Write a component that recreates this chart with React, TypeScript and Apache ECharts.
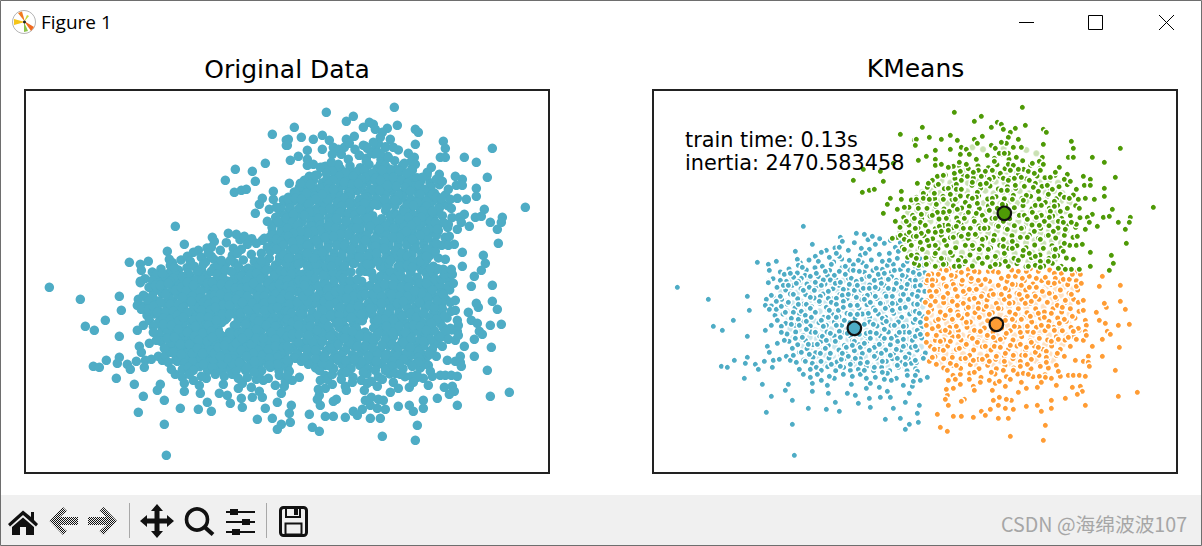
import React, { useEffect, useRef } from "react";
import * as echarts from "echarts";

type P = [number, number];

const titleLeft = "Original Data";
const titleRight = "KMeans";
const infoLines = ["train time: 0.13s", "inertia: 2470.583458"];
const BLUE = "#4EACC5";
const ORANGE = "#FF9C34";
const GREEN = "#4E9A06";

// points, one list per cluster and region of the plot
const blueUpperLeft: P[] = [[451,409],[610,430],[634,433],[658,439],[562,442],[568,454],[478,463],[667,463],[694,460],[559,472],[427,484],[586,481],[625,475],[649,478],[622,496],[487,499],[529,502],[559,499],[550,490],[679,493],[709,490],[727,472],[736,484],[751,472],[496,514],[433,508],[436,526],[448,532],[313,517],[346,523],[370,514],[349,541],[394,553],[412,550],[508,529],[535,523],[577,529],[589,511],[616,511],[637,490],[640,529],[670,535],[703,526],[721,523],[709,511],[751,526],[763,514],[781,517],[490,550],[472,559],[517,544],[544,556],[559,544],[577,553],[601,541],[619,544],[595,565],[649,559],[676,553],[694,550],[724,541],[748,556],[766,541],[781,547],[445,565],[346,574],[382,571],[436,574],[511,570],[532,570],[610,574],[664,571],[706,568],[730,571],[772,571]];
const blueLowerLeft: P[] = [[73,16],[166,52],[283,43],[289,85],[241,115],[181,133],[208,145],[283,163],[337,145],[355,130],[373,115],[343,193],[349,211],[373,184],[394,175],[283,226],[244,235],[277,244],[205,253],[223,256],[307,247],[316,262],[334,238],[358,256],[361,235],[379,232],[400,223],[412,235],[421,220],[430,241],[439,211],[418,199],[274,289],[328,307],[406,307],[397,325],[355,343],[418,355],[340,391],[418,427],[424,520],[466,379],[520,382],[547,361],[559,388],[478,304],[478,328],[526,334],[523,310],[505,295],[544,289],[529,283],[472,286],[451,277],[439,262],[457,238],[478,244],[472,262],[490,256],[505,265],[493,277],[535,247],[562,253],[565,232],[583,334],[607,340],[616,364],[595,307],[649,349],[652,376],[640,319],[652,304],[667,286],[679,316],[682,346],[712,346],[703,328],[721,379],[697,412],[742,409],[769,427],[757,442],[757,361],[769,334],[751,310],[778,313],[763,280],[781,298],[730,289],[715,295],[694,292],[703,274],[688,271],[664,256],[640,289],[622,277],[634,265],[592,265],[598,283],[571,277],[592,247],[622,244],[643,241],[607,229],[568,214],[586,223],
[346,2],[391,10],[406,10],[430,4],[451,25],[469,16],[484,25],[487,1],[505,10],[526,28],[547,4],[562,1],[571,22],[589,7],[604,25],[613,10],[631,19],[649,19],[667,16],[685,4],[706,19],[730,4],[745,16],[763,7],[781,13],
[355,40],[382,43],[421,37],[472,46],[502,43],[526,49],[550,49],[568,40],[586,37],[610,46],[634,43],[643,40],[667,43],[700,43],[718,43],[751,37],[778,37],
[340,52],[370,58],[406,61],[436,67],[460,67],[499,58],[535,61],[550,67],[571,58],[592,70],[613,70],[634,52],[652,61],[682,64],[718,64],[742,55],[766,52],
[337,70],[349,82],[370,82],[385,73],[397,91],[421,91],[445,88],[472,79],[487,91],[529,85],[556,85],[571,76],[592,97],[613,97],[646,94],[667,85],[697,79],[718,85],[742,79],[757,76],[781,88],
[415,109],[436,112],[457,100],[460,118],[475,106],[505,115],[526,106],[550,106],[574,115],[634,127],[661,127],[688,109],[700,118],[724,130],[751,133],[781,121],
[385,133],[415,127],[439,130],[460,142],[487,151],[511,133],[532,154],[550,130],[559,148],[583,154],[619,157],[640,154],[652,151],[670,154],[694,142],[739,151],[769,151],
[385,151],[427,169],[448,166],[466,187],[493,187],[508,163],[520,175],[547,178],[562,166],[580,196],[604,178],[622,196],[634,184],[652,169],[664,196],[679,187],[694,169],[715,169],[751,172],[778,175],
[445,211],[469,217],[502,214],[517,199],[532,214],[598,190],[649,205],[685,214],[712,220],[730,202],[751,193],[775,196],[757,226],[733,229],[775,244],[757,247],[733,250],[700,238],[688,238],[664,223]];
const blueUpperRight: P[] = [[10,535],[13,553],[1,571]];
const blueLowerRight: P[] = [[1,13],[16,10],[10,28],[7,43],[7,67],[1,88],[13,94],[1,112],[16,121],[7,145],[1,163],[16,157],[1,193],[31,213],[25,229],[1,235],[7,268],[37,286],[16,295],[1,280],[13,370],[7,394],[10,421]];

const greenUpperLeft: P[] = [[742,133],[784,150],[784,166],[721,220],[631,238],[682,244],[601,271],[691,274],[628,307],[649,301],[664,298],[745,304],[712,325],[745,328],[775,330],[703,343],[733,358],[754,352],[691,370],[727,394],[760,394],[784,385],[769,427],[742,436],[718,445],[781,439],[754,448],[769,454],[775,466],[754,478],[775,496],[784,520]];
const greenUpperRight: P[] = [[322,52],[118,67],[199,79],[178,94],[22,112],[247,97],[259,103],[229,112],[265,118],[301,115],[331,106],[385,118],[394,127],[286,127],[280,142],[106,136],[202,139],[43,142],[4,148],[79,148],[127,151],[178,148],[187,160],[310,148],[274,160],[259,157],[229,166],[385,163],[469,154],[475,175],[616,175],[1,166],[61,181],[106,178],[139,172],[154,178],[241,175],[253,190],[295,172],[319,172],[280,190],[268,190],[34,199],[10,211],[136,193],[163,193],[217,196],[304,202],[460,202],[475,202],[532,202],[568,217],[61,208],[184,208],[382,202],[373,214],[352,220],[238,214],[280,223],[154,223],[115,229],[61,226],[79,223],[133,217],[295,226],[385,223],[433,232],[421,247],[310,238],[340,244],[376,241],[358,250],[190,241],[211,244],[232,241],[256,250],[286,241],[100,232],[136,244],[175,247],[118,250],[457,253],[601,262],[505,259],[526,268],[448,268],[406,262],[298,265],[319,262],[343,271],[265,265],[235,262],[157,259],[67,259],[85,256],[139,271],[199,259],[52,271],[466,274],[361,280],[280,271],[223,268],[172,277],[196,283],[214,280],[40,280],[7,280],[70,283],[100,295],[124,283],[508,286],[526,286],[397,286],[328,289],[301,286],[355,292],[568,295],[484,298],[412,298],[259,301],[277,301],[232,325],[370,304],[124,298],[139,298],[187,307],[160,319],[25,310],[58,310],[400,313],[436,313],[448,322],[334,316],[568,319],[511,325],[538,328],[463,325],[490,328],[418,334],[325,331],[292,328],[184,322],[172,325],[121,328],[106,313],[4,328],[25,325],[43,328],[85,328],[64,343],[391,337],[361,346],[379,346],[418,349],[262,343],[232,340],[151,337],[187,340],[127,358],[163,349],[10,355],[457,355],[493,355],[592,358],[715,352],[436,364],[406,364],[352,367],[313,376],[328,376],[160,367],[184,370],[202,376],[103,364],[85,367],[67,367],[52,376],[19,373],[94,385],[646,382],[532,373],[517,382],[565,382],[583,379],[610,397],[643,397],[523,397],[547,409],[484,403],[469,397],[430,394],[445,397],[403,382],[379,376],[364,382],[337,388],[388,394],[265,394],[223,361],[211,391],[130,397],[148,385],[178,394],[241,385],[16,397],[31,406],[1,415],[73,409],[100,406],[124,409],[145,415],[196,415],[208,415],[250,409],[277,418],[319,415],[373,406],[511,418],[631,418],[451,418],[415,424],[358,424],[337,442],[316,442],[292,454],[400,436],[376,448],[487,439],[265,448],[235,451],[202,448],[181,433],[160,433],[100,421],[79,424],[61,427],[40,424],[19,430],[4,439],[37,451],[61,466],[16,457],[88,451],[115,442],[139,439],[151,466],[172,466],[193,478],[220,478],[265,469],[292,475],[325,481],[343,490],[361,499],[415,478],[445,484],[421,478],[484,466],[502,463],[634,460],[448,460],[526,487],[589,496],[595,520],[583,541],[526,529],[475,508],[469,538],[451,538],[493,538],[430,535],[400,514],[376,514],[340,529],[310,511],[271,514],[268,490],[241,499],[202,520],[241,523],[217,502],[151,514],[130,511],[106,487],[118,529],[85,523],[79,505],[61,490],[61,529],[34,523],[4,505],[22,478],[133,529],[361,526],[418,499],[376,532]];

const orangeUpperRight: P[] = [[40,556],[37,571],[70,553],[94,541],[121,559],[142,571],[139,547],[160,556],[178,544],[169,565],[190,571],[211,568],[220,544],[235,544],[250,547],[259,565],[280,559],[301,559],[310,544],[322,565],[343,559],[334,544],[370,544],[364,565],[391,562],[418,550],[421,565],[439,550],[445,568],[463,568],[472,553],[496,553],[562,559],[109,556],[85,565],[52,570]];
const orangeLowerRight: P[] = [[553,13],[616,10],[616,58],[631,82],[574,76],[568,64],[544,91],[553,115],[571,124],[610,130],[643,127],[577,148],[586,157],[562,172],[532,193],[613,196],[562,223],[601,265],[667,331],[610,343],[511,370],[451,349],[409,355],[409,379],[367,370],[379,388],[334,373],[391,430],[385,475],[286,463],[280,409],[250,409],[295,382],[271,379],[250,370],[289,355],[274,352],[253,346],[235,355],[226,382],[199,388],[211,400],[175,406],[139,403],[115,403],[100,370],[67,397],[76,436],[97,448],[148,352],[139,358],[97,340],[91,352],[94,322],[115,319],[136,307],[100,295],[121,292],[136,277],[97,265],[137,259],[124,250],[106,244],[64,247],[43,238],[52,226],[46,193],[34,181],[37,157],[34,130],[40,91],[46,70],[31,61],[61,58],[49,43],[64,28],[52,10],[94,13],[115,7],[121,22],[85,46],[112,58],[127,43],[145,28],[163,22],[184,22],[199,43],[178,49],[145,64],[127,70],[106,85],[91,100],[70,112],[112,112],[130,100],[157,97],[160,76],[190,79],[214,73],[223,40],[235,37],[259,37],[283,43],[271,19],[292,7],[319,10],[343,16],[364,16],[400,2],[418,4],[421,46],[403,34],[382,28],[361,43],[337,43],[313,37],[331,64],[349,58],[397,61],[427,70],[442,76],[451,55],[469,37],[484,13],[499,4],[490,61],[505,55],[505,85],[472,103],[448,112],[433,124],[511,115],[514,130],[490,139],[475,148],[460,166],[484,172],[505,175],[511,148],[514,160],[430,172],[466,193],[448,223],[427,214],[394,208],[361,211],[331,220],[316,238],[295,220],[271,214],[244,223],[223,238],[202,232],[175,235],[151,229],[112,226],[133,199],[154,187],[187,181],[211,193],[238,193],[256,196],[286,190],[316,187],[334,196],[349,181],[370,196],[394,226],[394,241],[376,253],[424,250],[349,232],[337,247],[316,253],[295,265],[265,265],[268,238],[229,271],[178,271],[175,313],[178,325],[163,292],[196,301],[223,295],[241,304],[253,298],[286,292],[319,301],[271,313],[232,325],[310,331],[334,319],[367,316],[424,310],[409,289],[391,286],[373,283],[379,301],[436,283],[460,280],[475,280],[493,280],[511,283],[481,235],[505,238],[520,223],[520,241],[523,253],[472,316],[496,313],[502,328],[487,337],[325,274],[340,277],[430,268],[61,175],[76,178],[106,178],[85,205],[58,202],[103,151],[130,163],[70,133],[91,145],[64,160],[124,133],[154,121],[178,145],[193,106],[223,97],[250,79],[283,64],[301,97],[319,112],[292,112],[271,115],[346,103],[370,94],[388,106],[409,94],[337,133],[379,130],[400,133],[418,145],[355,151],[373,169],[409,178],[316,151],[298,133],[274,154],[256,172],[235,166],[217,160],[196,148],[172,169]];

// overdrawn points in the dense middle of each cloud, in whole-plot units; estimated from the partly hidden rings
const greenHidden: P[] = [[1003,196],[1024,205],[1047,192],[1068,208],[1088,199],[1109,212],
[893,232],[917,226],[946,236],[975,228],[1006,233],[1032,224],[1056,236],[1079,229],[1112,238],[1133,226],[1161,235],
[852,262],[877,255],[906,266],[931,258],[961,264],[992,256],[1017,268],[1041,259],[1071,265],[1096,254],[1121,267],[1152,258],[1176,263],[1206,256],
[823,292],[849,287],[874,296],[902,289],[928,298],[957,286],[983,294],[1011,288],[1036,297],[1063,290],[1088,295],[1113,286],[1142,296],[1167,289],[1192,298],[1218,290],[1243,284],
[790,322],[818,316],[845,326],[870,319],[897,328],[922,318],[951,325],[977,317],[1004,327],[1029,320],[1054,326],[1081,316],[1107,325],[1133,319],[1158,327],[1184,318],[1210,326],[1236,320],[1261,315],
[768,352],[795,346],[822,355],[848,349],[873,357],[901,347],[926,354],[953,346],[979,356],[1006,348],[1033,355],[1058,346],[1084,353],[1110,347],[1137,356],[1163,349],[1189,355],[1214,346],[1241,353],[1268,347],
[752,382],[779,376],[806,385],[831,378],[858,387],[884,377],[911,384],[937,376],[963,386],[990,379],[1017,385],[1043,377],[1070,386],[1096,378],[1122,384],[1147,376],[1174,386],[1199,378],[1226,385],[1252,377],[1281,383],
[741,412],[768,405],[795,414],[820,407],[847,416],[873,406],[899,413],[925,405],[952,415],[978,408],[1005,414],[1031,406],[1058,415],[1084,407],[1111,413],[1137,405],[1163,415],[1188,407],[1215,414],[1240,406],[1268,412],
[733,442],[760,435],[787,444],[813,437],[839,446],[865,436],[892,443],[918,435],[945,445],[971,438],[998,444],[1024,436],[1050,445],[1077,437],[1103,443],[1129,435],[1156,445],[1181,437],[1208,444],[1234,436],[1260,442],
[748,472],[776,465],[802,474],[828,467],[855,476],[881,466],[908,473],[934,465],[960,475],[987,468],[1013,474],[1040,466],[1066,475],[1092,467],[1119,473],[1145,465],[1171,475],[1197,467],[1224,474],[1250,466],
[764,502],[792,495],[819,504],[845,497],[871,506],[898,496],[924,503],[951,495],[977,505],[1003,498],[1030,504],[1056,496],[1083,505],[1109,497],[1135,503],[1161,495],[1188,505],[1214,497],[1240,504],
[797,526],[825,520],[852,529],[879,522],[905,531],[932,521],[958,528],[985,520],[1012,530],[1039,523],[1066,529],[1092,521],[1119,530],[1145,522],[1172,528],[1198,520],[1225,529]];
const greenDeep: P[] = [[958,172],[990,178],[1020,168],[1052,176],[1082,170],[1120,180],[1150,190],
[905,246],[936,243],[968,250],[1000,244],[1030,251],[1062,245],[1092,249],[1125,244],[1150,248],
[840,276],[865,272],[892,278],[918,273],[945,279],[975,274],[1003,280],[1028,275],[1055,278],[1083,272],[1108,279],[1135,274],[1160,277],[1188,272],[1215,278],
[808,306],[835,302],[860,309],[888,303],[915,310],[942,304],[970,308],[997,302],[1022,310],[1050,305],[1075,309],[1100,303],[1128,310],[1152,304],[1178,308],[1203,303],[1228,309],
[780,336],[808,332],[832,339],[858,334],[884,340],[910,333],[938,340],[965,335],[992,339],[1017,333],[1042,341],[1068,335],[1094,339],[1120,333],[1146,340],[1172,335],[1198,339],[1224,333],[1250,338],
[765,367],[792,362],[818,369],[845,364],[870,371],[896,363],[924,369],[950,362],[976,370],[1002,364],[1028,368],[1082,362],[1108,369],[1134,364],[1160,370],[1186,363],[1210,369],[1238,364],
[752,397],[780,392],[806,399],[832,394],[858,400],[885,392],[912,399],[938,393],[964,400],[990,394],[1017,399],[1043,392],[1070,400],[1096,394],[1122,399],[1148,392],[1174,400],[1200,394],[1226,398],
[742,427],[769,421],[796,429],[822,423],[848,430],[874,422],[900,428],[926,421],[953,430],[979,424],[1006,429],[1032,422],[1058,430],[1084,423],[1110,428],[1136,421],[1162,430],[1188,423],[1214,428],[1240,422],
[752,456],[778,451],[805,459],[830,452],[856,460],[882,451],[909,458],[935,451],[961,460],[988,453],[1014,459],[1040,452],[1066,460],[1092,453],[1119,458],[1145,451],[1171,460],[1197,453],[1224,458],
[770,487],[796,481],[822,489],[848,482],[875,490],[901,481],[927,488],[954,481],[980,490],[1006,483],[1033,489],[1059,481],[1085,490],[1112,483],[1138,488],[1164,481],[1190,490],[1216,483],
[806,512],[834,508],[860,515],[887,509],[913,516],[940,508],[966,514],[993,508],[1020,516],[1047,510],[1073,515],[1100,508],[1126,515],[1152,509],[1180,514],[1206,508]];
const blueHidden: P[] = [[520,481],[546,474],[604,458],[645,449],[680,446],[712,451],[742,458],
[442,518],[468,510],[505,487],[542,516],[566,507],[601,524],[628,518],[655,510],[688,514],[733,505],[775,498],[800,505],
[382,546],[408,537],[433,549],[460,540],[486,533],[530,541],[567,533],[590,540],[634,546],[660,541],[688,538],[715,546],[742,539],[788,532],[812,525],
[360,566],[400,574],[422,562],[456,556],[496,560],[523,556],[550,570],[586,565],[626,568],[642,560],[682,566],[716,560],[740,570],[760,560],[790,556],[815,548],
[372,592],[398,600],[418,586],[444,596],[462,582],[490,590],[516,582],[540,596],[558,586],[582,598],[606,590],[624,600],[650,585],[675,596],[694,586],[722,598],[738,584],[758,596],[790,590],[812,578],
[360,620],[386,628],[412,612],[434,626],[458,614],[484,624],[510,612],[536,626],[560,614],[582,626],[604,614],[626,628],[650,612],[672,626],[696,612],[720,626],[744,614],[768,628],[792,614],[815,604],
[355,648],[378,654],[402,642],[426,654],[452,642],[476,650],[500,640],[520,652],[546,642],[568,652],[594,642],[618,654],[642,644],[662,654],[688,640],[710,650],[732,640],[756,654],[782,642],[806,630],
[366,676],[390,672],[414,682],[440,672],[462,682],[486,670],[512,682],[536,672],[558,680],[582,670],[606,684],[628,672],[650,682],[676,672],[698,682],[722,670],[746,682],[770,672],[794,662],[810,680],
[398,700],[426,706],[448,696],[472,708],[498,698],[520,706],[544,696],[566,706],[590,698],[628,706],[650,696],[672,708],[690,698],[714,706],[736,696],[760,708],[786,698],[806,710],
[402,732],[428,726],[450,736],[474,726],[500,738],[522,726],[544,738],[568,728],[592,738],[614,726],[638,736],[660,726],[682,738],[706,726],[730,738],[754,726],[778,736],[800,726],
[408,754],[434,764],[458,752],[480,764],[504,754],[526,766],[552,754],[574,766],[598,752],[618,764],[642,754],[666,766],[688,754],[712,764],[734,754],[758,766],[782,754],[806,744],
[440,786],[462,776],[488,788],[512,778],[536,790],[558,780],[580,792],[604,782],[628,790],[650,778],[674,790],[698,780],[722,792],[744,780],[768,792],[792,780],
[452,810],[480,802],[504,814],[528,804],[552,816],[574,806],[598,816],[622,806],[646,816],[670,804],[694,816],[718,806],[742,816],[766,806],[790,818],[808,800],
[500,838],[524,830],[548,842],[572,832],[616,838],[640,830],[662,842],[686,832],[710,842],[736,832],[762,842],[788,836]];
const blueDeep: P[] = [[410,572],[440,578],[470,570],[504,574],[536,578],[570,572],[600,578],[632,580],[660,574],[694,570],[726,578],[752,572],[780,576],[806,566],
[385,606],[410,600],[432,608],[458,600],[480,608],[504,600],[528,606],[552,600],[574,608],[596,602],[618,612],[642,600],[664,610],[686,600],[710,610],[732,600],[756,612],[780,602],[802,590],
[372,636],[398,634],[420,640],[444,634],[468,638],[492,632],[516,640],[540,634],[562,640],[588,634],[610,640],[634,634],[656,640],[680,630],[704,638],[726,630],[750,640],[774,636],[798,628],
[378,660],[402,664],[428,660],[452,664],[476,660],[500,664],[524,660],[548,664],[572,660],[596,664],[620,660],[642,664],[668,660],[690,664],[714,660],[738,664],[762,660],[786,654],[808,650],
[406,690],[434,692],[458,688],[482,692],[506,688],[530,692],[552,688],[576,692],[600,690],[640,690],[664,692],[686,688],[710,690],[734,688],[758,692],[782,686],[804,694],
[412,716],[438,720],[462,716],[486,720],[510,716],[534,718],[556,716],[580,720],[640,722],[664,716],[688,720],[712,716],[736,720],[760,716],[784,720],[808,728],
[420,744],[446,746],[470,742],[492,746],[516,742],[538,748],[562,744],[586,748],[608,742],[630,746],[654,742],[676,748],[700,742],[724,748],[746,742],[770,746],[794,742],
[448,770],[474,772],[498,768],[522,772],[546,770],[568,772],[592,768],[616,772],[638,768],[662,772],[686,768],[710,772],[734,768],[758,772],[782,768],[804,770],
[466,798],[492,798],[516,794],[540,798],[564,796],[588,800],[612,796],[636,800],[660,794],[684,800],[708,796],[732,800],[756,796],[780,800],
[492,824],[516,822],[540,826],[586,824],[610,826],[634,822],[654,826],[678,822],[702,826],[728,822],[752,826],[778,822]];
const orangeHidden: P[] = [[836,552],[860,540],[888,536],[914,546],[946,538],[978,546],[1012,540],[1040,548],[1076,540],[1098,548],[1132,536],[1158,546],[1190,540],[1214,546],[1238,536],[1268,546],
[820,578],[848,572],[874,584],[898,574],[926,582],[954,574],[984,584],[1010,574],[1036,586],[1062,574],[1088,584],[1114,572],[1140,582],[1166,572],[1194,584],[1220,574],[1244,584],[1270,572],
[830,604],[856,600],[884,610],[908,600],[936,610],[962,600],[988,612],[1014,602],[1040,612],[1066,600],[1092,610],[1118,600],[1144,612],[1170,600],[1196,610],[1222,600],[1248,610],[1274,600],
[822,632],[846,628],[872,638],[898,628],[924,638],[950,628],[976,640],[1002,630],[1030,640],[1054,628],[1080,638],[1106,628],[1132,640],[1158,628],[1184,638],[1210,628],[1236,638],[1262,628],
[836,658],[862,666],[888,656],[914,666],[940,656],[966,668],[992,658],[1018,668],[1044,656],[1070,666],[1096,656],[1122,668],[1148,656],[1174,666],[1200,656],[1226,666],[1252,656],[1278,664],
[820,686],[848,692],[874,684],[900,694],[926,684],[952,696],[978,686],[1004,692],[1058,684],[1084,694],[1110,684],[1136,696],[1162,684],[1188,694],[1214,684],[1240,694],[1266,684],
[838,716],[864,722],[890,712],[916,722],[942,712],[968,724],[994,714],[1020,726],[1046,714],[1072,722],[1098,712],[1124,724],[1150,712],[1176,722],[1202,712],[1228,722],[1254,712],[1280,720],
[846,744],[872,750],[898,740],[924,750],[950,740],[976,752],[1002,742],[1028,752],[1054,742],[1080,750],[1106,740],[1132,752],[1158,740],[1184,750],[1210,740],[1236,750],[1262,740],
[830,772],[858,778],[884,768],[910,778],[936,768],[962,780],[988,770],[1014,780],[1040,770],[1066,778],[1092,768],[1118,780],[1144,768],[1170,778],[1196,768],[1222,778],
[846,800],[872,806],[898,796],[924,806],[950,796],[976,808],[1002,798],[1028,808],[1054,798],[1080,806],[1106,796],[1132,808],[1158,796],[1184,806],[1210,796],
[872,834],[900,826],[926,836],[952,824],[978,836],[1004,826],[1030,836],[1056,826],[1082,834],[1108,824],[1134,836],[1160,824],[1186,834],
[900,856],[950,850],[984,862],[1026,852],[1060,860],[1094,852],[1140,860],[1176,854]];
const orangeDeep: P[] = [[832,590],[860,586],[886,594],[912,588],[940,596],[968,588],[996,596],[1022,590],[1050,596],[1076,590],[1102,596],[1128,590],[1154,596],[1180,590],[1208,596],[1234,590],[1260,596],
[832,618],[858,616],[884,624],[910,616],[936,624],[962,616],[990,626],[1016,618],[1042,626],[1068,616],[1094,624],[1120,616],[1146,626],[1172,616],[1198,624],[1224,616],[1250,622],
[834,646],[860,648],[886,644],[912,650],[938,644],[964,652],[990,646],[1016,652],[1042,644],[1068,650],[1094,644],[1120,652],[1146,644],[1172,650],[1198,644],[1224,650],[1250,644],
[834,674],[860,678],[886,672],[912,680],[938,672],[964,682],[990,674],[1016,680],[1042,674],[1068,680],[1094,672],[1120,682],[1146,672],[1172,680],[1198,672],[1224,680],[1250,672],
[830,702],[856,706],[882,700],[908,708],[934,700],[960,710],[986,702],[1012,692],[1048,692],[1062,706],[1090,700],[1116,710],[1142,700],[1168,708],[1194,700],[1220,708],[1246,700],
[850,730],[876,736],[902,728],[928,736],[954,728],[980,738],[1006,730],[1032,738],[1058,728],[1084,736],[1110,728],[1136,738],[1162,728],[1188,736],[1214,728],[1240,736],
[838,758],[864,764],[890,756],[916,764],[942,756],[968,766],[994,756],[1020,766],[1046,756],[1072,764],[1098,756],[1124,766],[1150,756],[1176,764],[1202,756],[1228,764],
[852,788],[878,792],[904,784],[930,792],[956,784],[982,794],[1008,786],[1034,794],[1060,784],[1086,792],[1112,784],[1138,794],[1164,784],[1190,792],[1216,784],
[862,818],[888,814],[914,820],[940,812],[966,822],[992,814],[1018,822],[1044,814],[1070,820],[1096,812],[1122,822],[1148,812],[1174,820],[1200,812]];

const centroids: { color: string; value: P }[] = [
  { color: BLUE, value: [604, 715] },
  { color: ORANGE, value: [1030, 703] },
  { color: GREEN, value: [1054, 370] },
];

// the zoomed reading units: 3 units per pixel; a plot half is 786 wide, a plot top half 576 high
const shift = (pts: P[], dx: number, dy: number): P[] => pts.map(([x, y]) => [x + dx, y + dy] as P);
const blue = [...blueHidden, ...blueUpperLeft, ...shift(blueLowerLeft, 0, 576), ...shift(blueUpperRight, 786, 0), ...shift(blueLowerRight, 786, 576)];
const green = [...greenHidden, ...greenUpperLeft, ...shift(greenUpperRight, 786, 0)];
const orange = [...orangeHidden, ...shift(orangeUpperRight, 786, 0), ...shift(orangeLowerRight, 786, 576)];
const allPoints = [...blueDeep, ...orangeDeep, ...greenDeep, ...blue, ...orange, ...green];

const FONT = '"DejaVu Sans", sans-serif';

const p = (points: number[][], fill: any) => ({ type: "polygon", shape: { points }, style: { fill }, silent: true });
const barRect = (x: number, y: number, width: number, height: number, fill: string) => ({ type: "rect", shape: { x, y, width, height }, style: { fill }, silent: true });
const seg = (x1: number, y1: number, x2: number, y2: number, stroke: string, lineWidth: number) => ({ type: "line", shape: { x1, y1, x2, y2 }, style: { stroke, lineWidth }, silent: true });

function checker(): any {
  const c = document.createElement("canvas");
  c.width = 2;
  c.height = 2;
  const g = c.getContext("2d")!;
  g.fillStyle = "#f0f0f0";
  g.fillRect(0, 0, 2, 2);
  g.fillStyle = "#111";
  g.fillRect(0, 0, 1, 1);
  g.fillRect(1, 1, 1, 1);
  return { image: c, repeat: "repeat" };
}

function chrome(): any[] {
  const K = "#111";
  const G = checker();
  const BG = "#f0f0f0";
  return [
    barRect(0, 0, 1202, 546, "#fff"),
    barRect(0, 495, 1202, 51, BG),
    { type: "rect", shape: { x: 0.5, y: 0.5, width: 1201, height: 545 }, style: { fill: "none", stroke: "#6e6e6e", lineWidth: 1 }, silent: true, z: 50 },
    // window icon
    { type: "circle", shape: { cx: 24, cy: 22, r: 11.5 }, style: { fill: "#fff", stroke: "#b5b5b5", lineWidth: 1 }, silent: true },
    p([[18, 13], [22, 11.5], [25, 22]], "#f07a1e"),
    p([[24, 21], [34, 27], [31, 31]], "#f0691e"),
    p([[14, 19], [14, 25], [25, 22]], "#f5c518"),
    p([[24, 22], [28, 31], [24, 32]], "#8bc34a"),
    p([[24, 22], [27, 15], [29, 16]], "#c6d93a"),
    { type: "circle", shape: { cx: 24.5, cy: 22, r: 1.5 }, style: { fill: "#222" }, silent: true },
    { type: "text", x: 41, y: 12, style: { text: "Figure 1", font: '19px "Open Sans", sans-serif', fill: "#000" }, silent: true },
    // window buttons
    seg(1019, 22.5, 1034, 22.5, "#000", 1),
    { type: "rect", shape: { x: 1088.5, y: 15.5, width: 14, height: 14 }, style: { fill: "none", stroke: "#000", lineWidth: 1 }, silent: true },
    seg(1159, 15, 1174, 30, "#000", 1),
    seg(1174, 15, 1159, 30, "#000", 1),
    // toolbar: home
    p([[8, 524], [23, 510.5], [31, 517], [31, 512], [34, 512], [34, 520], [38, 524], [36, 526.5], [23, 515], [10, 526.5]], K),
    p([[12, 527], [23, 517.5], [34, 527], [34, 535], [26, 535], [26, 527], [20, 527], [20, 535], [12, 535]], K),
    // back and forward
    p([[49.5, 521], [63, 507], [67, 511], [60, 517], [78, 517], [78, 525], [60, 525], [67, 531], [63, 535]], G),
    p([[117, 521], [103.5, 507], [99.5, 511], [106.5, 517], [88, 517], [88, 525], [106.5, 525], [99.5, 531], [103.5, 535]], G),
    seg(129.5, 503, 129.5, 538, "#a8a8a8", 1),
    // move
    p([[157, 504], [163, 511], [159.5, 511], [159.5, 518.5], [167, 518.5], [167, 515], [174, 521], [167, 527], [167, 523.5], [159.5, 523.5], [159.5, 531], [163, 531], [157, 538], [151, 531], [154.5, 531], [154.5, 523.5], [147, 523.5], [147, 527], [140, 521], [147, 515], [147, 518.5], [154.5, 518.5], [154.5, 511], [151, 511]], K),
    // zoom
    { type: "circle", shape: { cx: 197, cy: 519.5, r: 10.5 }, style: { fill: "none", stroke: K, lineWidth: 3.6 }, silent: true },
    seg(204.5, 527, 213, 534.5, K, 4.2),
    // sliders
    seg(226, 512, 255, 512, K, 2),
    seg(226, 522, 255, 522, K, 2),
    seg(226, 532, 255, 532, K, 2),
    barRect(230, 509, 8, 6, K),
    barRect(242, 519, 8, 6, K),
    barRect(232, 529, 8, 6, K),
    seg(266.5, 503, 266.5, 538, "#a8a8a8", 1),
    // save
    { type: "rect", shape: { x: 280.5, y: 507.5, width: 26, height: 28, r: 3 }, style: { fill: "none", stroke: K, lineWidth: 3 }, silent: true },
    { type: "rect", shape: { x: 286, y: 508, width: 14, height: 9 }, style: { fill: "none", stroke: K, lineWidth: 2 }, silent: true },
    barRect(294, 509, 4, 6, K),
    { type: "rect", shape: { x: 285.5, y: 523.5, width: 16, height: 11 }, style: { fill: "none", stroke: K, lineWidth: 2 }, silent: true },
    { type: "text", x: 1001, y: 514, style: { text: "CSDN @海绵波波107", font: '19.7px "Noto Sans CJK SC", sans-serif', fill: "#a6a6a6" }, silent: true, z: 60 },
    // titles and info
    { type: "text", x: 287, y: 57, style: { text: titleLeft, font: `25px ${FONT}`, fill: "#000", align: "center" }, silent: true, z: 60 },
    { type: "text", x: 915.5, y: 56, style: { text: titleRight, font: `25px ${FONT}`, fill: "#000", align: "center" }, silent: true, z: 60 },
    { type: "text", x: 685, y: 129, style: { text: infoLines[0], font: `20.8px ${FONT}`, fill: "#000" }, silent: true, z: 60 },
    { type: "text", x: 685, y: 152, style: { text: infoLines[1], font: `20.8px ${FONT}`, fill: "#000" }, silent: true, z: 60 },
  ];
}

const cluster = (data: P[], color: string, opacity = 1, z = 3) => ({
  type: "scatter",
  xAxisIndex: 1,
  yAxisIndex: 1,
  data,
  symbolSize: 6.5,
  itemStyle: { color, borderColor: "#fff", borderWidth: 1.5, opacity },
  silent: true,
  z,
});

const hiddenX = (gridIndex: number) => ({ type: "value", gridIndex, min: 0, max: 1572, show: false });
const hiddenY = (gridIndex: number) => ({ type: "value", gridIndex, min: 0, max: 1149, inverse: true, show: false });

export default function App() {
  const ref = useRef<HTMLDivElement>(null);
  useEffect(() => {
    document.body.style.margin = "0";
    const chart = echarts.init(ref.current!, null, { renderer: "svg" });
    chart.setOption({
      animation: false,
      backgroundColor: "transparent",
      graphic: { elements: chrome() },
      grid: [
        { left: 25, top: 90, width: 524, height: 383, show: true, borderColor: "#222", borderWidth: 2, backgroundColor: "#fff", z: 1 },
        { left: 653, top: 90, width: 524, height: 383, show: true, borderColor: "#222", borderWidth: 2, backgroundColor: "#fff", z: 1 },
      ],
      xAxis: [hiddenX(0), hiddenX(1)],
      yAxis: [hiddenY(0), hiddenY(1)],
      series: [
        { type: "scatter", xAxisIndex: 0, yAxisIndex: 0, data: allPoints, symbolSize: 9.5, itemStyle: { color: BLUE, opacity: 1 }, silent: true, z: 3 },
        cluster(blueDeep, BLUE, 0.3, 2),
        cluster(orangeDeep, ORANGE, 0.3, 2),
        cluster(greenDeep, GREEN, 0.3, 2),
        cluster(blue, BLUE),
        cluster(orange, ORANGE),
        cluster(green, GREEN),
        ...centroids.map((c) => ({
          type: "scatter",
          xAxisIndex: 1,
          yAxisIndex: 1,
          data: [c.value],
          symbolSize: 13.5,
          itemStyle: { color: c.color, borderColor: "#111", borderWidth: 2.2, opacity: 1 },
          silent: true,
          z: 5,
        })),
      ],
    });
    return () => chart.dispose();
  }, []);
  return <div ref={ref} style={{ width: 1202, height: 546 }} />;
}
